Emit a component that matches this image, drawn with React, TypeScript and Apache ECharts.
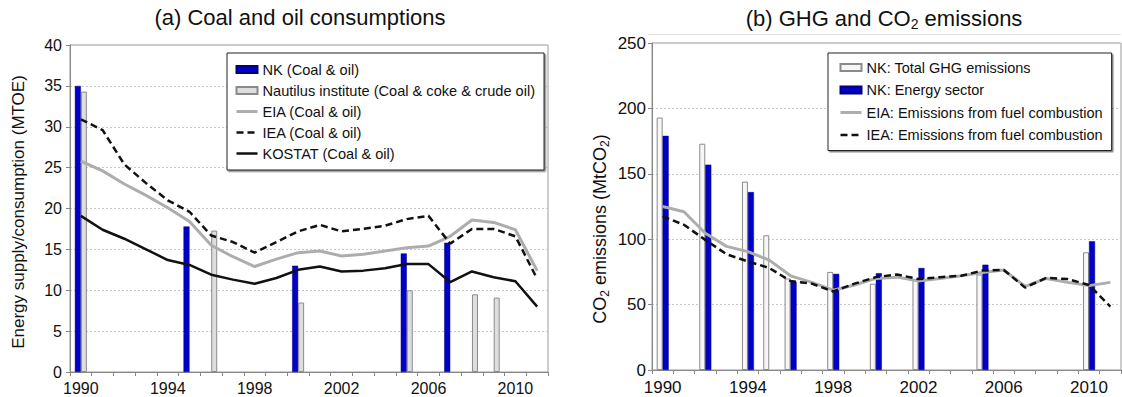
import React, { useEffect, useRef } from "react";
import * as echarts from "echarts";

const years = ["1990","1991","1992","1993","1994","1995","1996","1997","1998","1999","2000","2001","2002","2003","2004","2005","2006","2007","2008","2009","2010","2011"];

// (a) Coal and oil consumptions (MTOE)
const nkCoalOil = [35.0, null, null, null, null, 17.8, null, null, null, null, 13.0, null, null, null, null, 14.5, null, 15.8, null, null, null, null];
const nautilus = [34.3, null, null, null, null, null, 17.3, null, null, null, 8.5, null, null, null, null, 10.0, null, null, 9.5, 9.1, null, null];
const eiaCoalOil = [25.8, 24.6, 23.0, 21.6, 20.1, 18.4, 15.5, 14.1, 12.9, 13.8, 14.6, 14.8, 14.2, 14.4, 14.8, 15.2, 15.4, 16.6, 18.6, 18.3, 17.4, 12.4];
const ieaCoalOil = [30.9, 29.6, 25.4, 23.1, 21.0, 19.6, 16.7, 15.9, 14.6, 15.9, 17.2, 18.0, 17.2, 17.5, 17.9, 18.7, 19.1, 15.7, 17.5, 17.5, 16.6, 11.4];
const kostat = [19.1, 17.4, 16.3, 15.0, 13.7, 13.1, 11.9, 11.3, 10.8, 11.5, 12.5, 12.9, 12.3, 12.4, 12.7, 13.2, 13.2, 11.0, 12.3, 11.6, 11.1, 8.0];

// (b) GHG and CO2 emissions (MtCO2)
const ghgTotal = [193, null, 173, null, 144, 103, 70, null, 75, null, 66, null, 69, null, null, 73, null, null, null, null, 90, null];
const energySector = [179, null, 157, null, 136, null, 67.5, null, 73.5, null, 74, null, 78, null, null, 80.5, null, null, null, null, 98.5, null];
const eiaEmis = [125, 121, 104.5, 94.5, 90.5, 84, 72, 67, 61, 65, 70, 71, 68, 70, 72, 74.5, 76.5, 64, 70, 67, 64.5, 67];
const ieaEmis = [117.5, 111, 99.5, 88.5, 83, 78, 68, 66, 60, 66, 71, 73, 69.5, 71, 72, 76, 76.5, 63, 70.5, 69.5, 65, 48.5];

const FONT = "'Liberation Sans', Arial, Helvetica, sans-serif";
const BLUE = "#0000c8";
const GRAY_LINE = "#adadad";
const DASH = [7, 4];

export default function App() {
  const ref = useRef<HTMLDivElement>(null);
  useEffect(() => {
    if (!ref.current) return;
    const chart = echarts.init(ref.current, undefined, { renderer: "svg" });
    const xAxisBase = (gridIndex: number, fs: number, margin: number) => ({
      type: "category",
      gridIndex,
      data: years,
      boundaryGap: true,
      axisLine: { lineStyle: { color: "#888", width: 1 } },
      axisTick: { show: true, interval: 0, alignWithLabel: false, length: 4, lineStyle: { color: "#888" } },
      axisLabel: { interval: 3, fontSize: fs, color: "#111", fontFamily: FONT, margin },
      splitLine: { show: false },
    });
    const yAxisBase = (gridIndex: number, max: number, interval: number, fs: number, margin: number) => ({
      type: "value",
      gridIndex,
      min: 0,
      max,
      interval,
      axisLine: { show: true, lineStyle: { color: "#888", width: 1 } },
      axisTick: { show: true, length: 4, lineStyle: { color: "#888" } },
      axisLabel: { fontSize: fs, color: "#111", fontFamily: FONT, margin },
      splitLine: { show: true, lineStyle: { color: "#c8c8c8", type: [2, 2], width: 1 } },
    });
    const legendBase = {
      orient: "vertical",
      selectedMode: false,
      itemWidth: 21,
      itemHeight: 7,
      backgroundColor: "#fff",
      borderColor: "#222",
      borderWidth: 1,
      shadowColor: "rgba(0,0,0,0.45)",
      shadowBlur: 1,
      shadowOffsetX: 1.5,
      shadowOffsetY: 1.5,
    };
    const lineItem = (name: string, color: string, width: number, type: any) => ({
      name,
      itemStyle: { opacity: 0, color: "transparent", borderWidth: 0 },
      lineStyle: { color, width, type, opacity: 1 },
    });
    chart.setOption({
      animation: false,
      backgroundColor: "#fff",
      grid: [
        { left: 70, top: 45, width: 478, height: 327, show: true, borderColor: "#999", borderWidth: 1, backgroundColor: "transparent" },
        { left: 652, top: 43, width: 469, height: 327, show: true, borderColor: "#999", borderWidth: 1, backgroundColor: "transparent" },
      ],
      xAxis: [xAxisBase(0, 16, 8), xAxisBase(1, 17, 9)],
      yAxis: [yAxisBase(0, 40, 5, 16, 8), yAxisBase(1, 250, 50, 17, 6)],
      legend: [
        {
          ...legendBase,
          left: 227,
          top: 53,
          padding: [9, 9, 9, 8],
          itemGap: 6,
          textStyle: { fontSize: 14.6, lineHeight: 14, color: "#111", fontFamily: FONT },
          data: [
            { name: "NK (Coal & oil)", icon: "rect" },
            { name: "Nautilus institute (Coal & coke & crude oil)", icon: "rect" },
            lineItem("EIA (Coal & oil)", GRAY_LINE, 3, "solid"),
            lineItem("IEA (Coal & oil)", "#111", 2.5, DASH),
            lineItem("KOSTAT (Coal & oil)", "#111", 2.5, "solid"),
          ],
        },
        {
          ...legendBase,
          left: 828,
          top: 53,
          padding: [7, 9, 8, 11],
          itemGap: 7.5,
          textStyle: { fontSize: 14.5, lineHeight: 14.5, color: "#111", fontFamily: FONT },
          data: [
            { name: "NK: Total GHG emissions", icon: "rect" },
            { name: "NK: Energy sector", icon: "rect" },
            lineItem("EIA: Emissions from fuel combustion", GRAY_LINE, 3, "solid"),
            lineItem("IEA: Emissions from fuel combustion", "#111", 2.5, DASH),
          ],
        },
      ],
      graphic: [
        {
          type: "text",
          x: 300,
          y: 17,
          style: { text: "(a) Coal and oil consumptions", fontSize: 22, fontFamily: FONT, fill: "#111", align: "center", verticalAlign: "middle" },
        },
        {
          type: "text",
          x: 884,
          y: 18,
          style: {
            text: "(b) GHG and CO{sub|2} emissions",
            fontSize: 22,
            lineHeight: 26,
            fontFamily: FONT,
            fill: "#111",
            align: "center",
            verticalAlign: "middle",
            rich: { sub: { fontSize: 14, lineHeight: 14, verticalAlign: "bottom", fontFamily: FONT, fill: "#111" } },
          },
        },
        {
          type: "text",
          x: 18,
          y: 212,
          rotation: Math.PI / 2,
          style: { text: "Energy supply/consumption (MTOE)", fontSize: 17, fontFamily: FONT, fill: "#111", align: "center", verticalAlign: "middle" },
        },
        {
          type: "text",
          x: 600,
          y: 229,
          rotation: Math.PI / 2,
          style: {
            text: "CO{sub|2} emissions (MtCO{sub|2})",
            fontSize: 18,
            lineHeight: 22,
            fontFamily: FONT,
            fill: "#111",
            align: "center",
            verticalAlign: "middle",
            rich: { sub: { fontSize: 12, lineHeight: 12, verticalAlign: "bottom", fontFamily: FONT, fill: "#111" } },
          },
        },
        {
          type: "line",
          shape: { x1: 648, y1: 34.5, x2: 1121, y2: 34.5 },
          style: { stroke: "#e0e0e0", lineWidth: 1 },
        },
      ],
      series: [
        {
          name: "NK (Coal & oil)",
          type: "bar",
          xAxisIndex: 0,
          yAxisIndex: 0,
          data: nkCoalOil,
          barWidth: 6,
          barGap: "0%",
          itemStyle: { color: BLUE, borderColor: "#00007a", borderWidth: 0.5 },
        },
        {
          name: "Nautilus institute (Coal & coke & crude oil)",
          type: "bar",
          xAxisIndex: 0,
          yAxisIndex: 0,
          data: nautilus,
          barWidth: 6,
          barGap: "0%",
          itemStyle: { color: "#dedede", borderColor: "#8a8a8a", borderWidth: 1 },
        },
        {
          name: "EIA (Coal & oil)",
          type: "line",
          xAxisIndex: 0,
          yAxisIndex: 0,
          data: eiaCoalOil,
          symbol: "none",
          lineStyle: { color: GRAY_LINE, width: 3 },
          itemStyle: { color: GRAY_LINE },
        },
        {
          name: "IEA (Coal & oil)",
          type: "line",
          xAxisIndex: 0,
          yAxisIndex: 0,
          data: ieaCoalOil,
          symbol: "none",
          lineStyle: { color: "#111", width: 2.5, type: DASH },
          itemStyle: { color: "#111" },
        },
        {
          name: "KOSTAT (Coal & oil)",
          type: "line",
          xAxisIndex: 0,
          yAxisIndex: 0,
          data: kostat,
          symbol: "none",
          lineStyle: { color: "#111", width: 2.5 },
          itemStyle: { color: "#111" },
        },
        {
          name: "NK: Total GHG emissions",
          type: "bar",
          xAxisIndex: 1,
          yAxisIndex: 1,
          data: ghgTotal,
          barWidth: 6,
          barGap: "0%",
          itemStyle: { color: "#f7f7f7", borderColor: "#8a8a8a", borderWidth: 1 },
        },
        {
          name: "NK: Energy sector",
          type: "bar",
          xAxisIndex: 1,
          yAxisIndex: 1,
          data: energySector,
          barWidth: 6,
          barGap: "0%",
          itemStyle: { color: BLUE, borderColor: "#00007a", borderWidth: 0.5 },
        },
        {
          name: "EIA: Emissions from fuel combustion",
          type: "line",
          xAxisIndex: 1,
          yAxisIndex: 1,
          data: eiaEmis,
          symbol: "none",
          lineStyle: { color: GRAY_LINE, width: 3 },
          itemStyle: { color: GRAY_LINE },
        },
        {
          name: "IEA: Emissions from fuel combustion",
          type: "line",
          xAxisIndex: 1,
          yAxisIndex: 1,
          data: ieaEmis,
          symbol: "none",
          lineStyle: { color: "#111", width: 2.5, type: DASH },
          itemStyle: { color: "#111" },
        },
      ],
    });
    return () => chart.dispose();
  }, []);
  return <div ref={ref} style={{ position: "absolute", left: 0, top: 0, width: 1122, height: 397 }} />;
}
